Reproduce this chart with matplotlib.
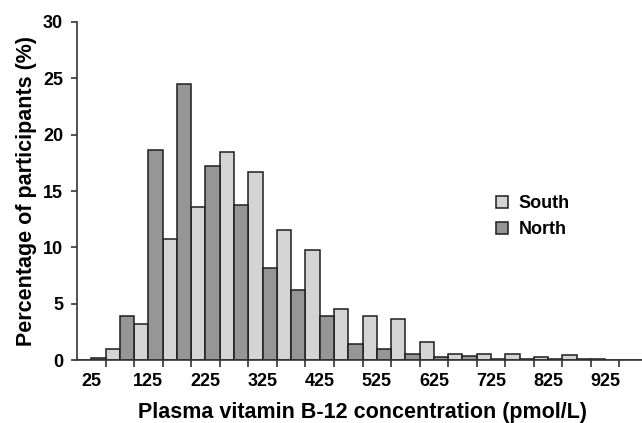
import matplotlib.pyplot as plt
import numpy as np

plt.rcParams['font.family'] = ['Liberation Sans', 'DejaVu Sans']
plt.rcParams['font.weight'] = 'bold'

# bin centres (pmol/L), 50 wide
bins = [25, 75, 125, 175, 225, 275, 325, 375, 425, 475,
        525, 575, 625, 675, 725, 775, 825, 875, 925, 975]
south = [0.0, 0.95, 3.2, 10.7, 13.6, 18.5, 16.7, 11.5, 9.8, 4.5,
         3.9, 3.6, 1.6, 0.5, 0.5, 0.5, 0.3, 0.4, 0.1, 0.0]
north = [0.15, 3.9, 18.6, 24.5, 17.2, 13.8, 8.2, 6.2, 3.9, 1.4,
         1.0, 0.5, 0.3, 0.35, 0.1, 0.1, 0.1, 0.1, 0.0, 0.0]

fig = plt.figure(figsize=(6.42, 4.23), dpi=100)
ax = fig.add_axes([77/642, 63/423, (648-77)/642, (360-22)/423])

k = np.arange(len(bins))
ax.bar(k + 0.25, south, width=0.5, color='#d4d4d4', edgecolor='#1e1e1e', linewidth=1.1, label='South')
ax.bar(k + 0.75, north, width=0.5, color='#969696', edgecolor='#1e1e1e', linewidth=1.1, label='North')

ax.set_xlim(0, len(bins))
ax.set_ylim(0, 30)
ax.set_yticks([0, 5, 10, 15, 20, 25, 30])

# ticks sit between categories, labels on every other category
ax.set_xticks(np.arange(1, len(bins)))
ax.set_xticklabels([])
ax.set_xticks(k[::2] + 0.5, minor=True)
ax.set_xticklabels([str(b) for b in bins[::2]], minor=True)
ax.tick_params(axis='x', which='major', length=5, width=1.2, color='#333333', direction='out')
ax.tick_params(axis='x', which='minor', length=0, pad=9, labelsize=13)
ax.tick_params(axis='y', length=4, width=1.2, color='#333333', pad=6, labelsize=13)

for s in ['top', 'right']:
    ax.spines[s].set_visible(False)
for s in ['left', 'bottom']:
    ax.spines[s].set_linewidth(1.2)
    ax.spines[s].set_color('#333333')

ax.set_xlabel('Plasma vitamin B-12 concentration (pmol/L)', fontsize=15.5, fontweight='bold', labelpad=9)
ax.set_ylabel('Percentage of participants (%)', fontsize=15.5, fontweight='bold', labelpad=4)

ax.legend(loc='upper left', bbox_to_anchor=(0.705, 0.535), frameon=False, fontsize=13,
          handlelength=0.65, handleheight=0.65, handletextpad=0.6, labelspacing=0.5)

fig.savefig('out.png', dpi=100)
